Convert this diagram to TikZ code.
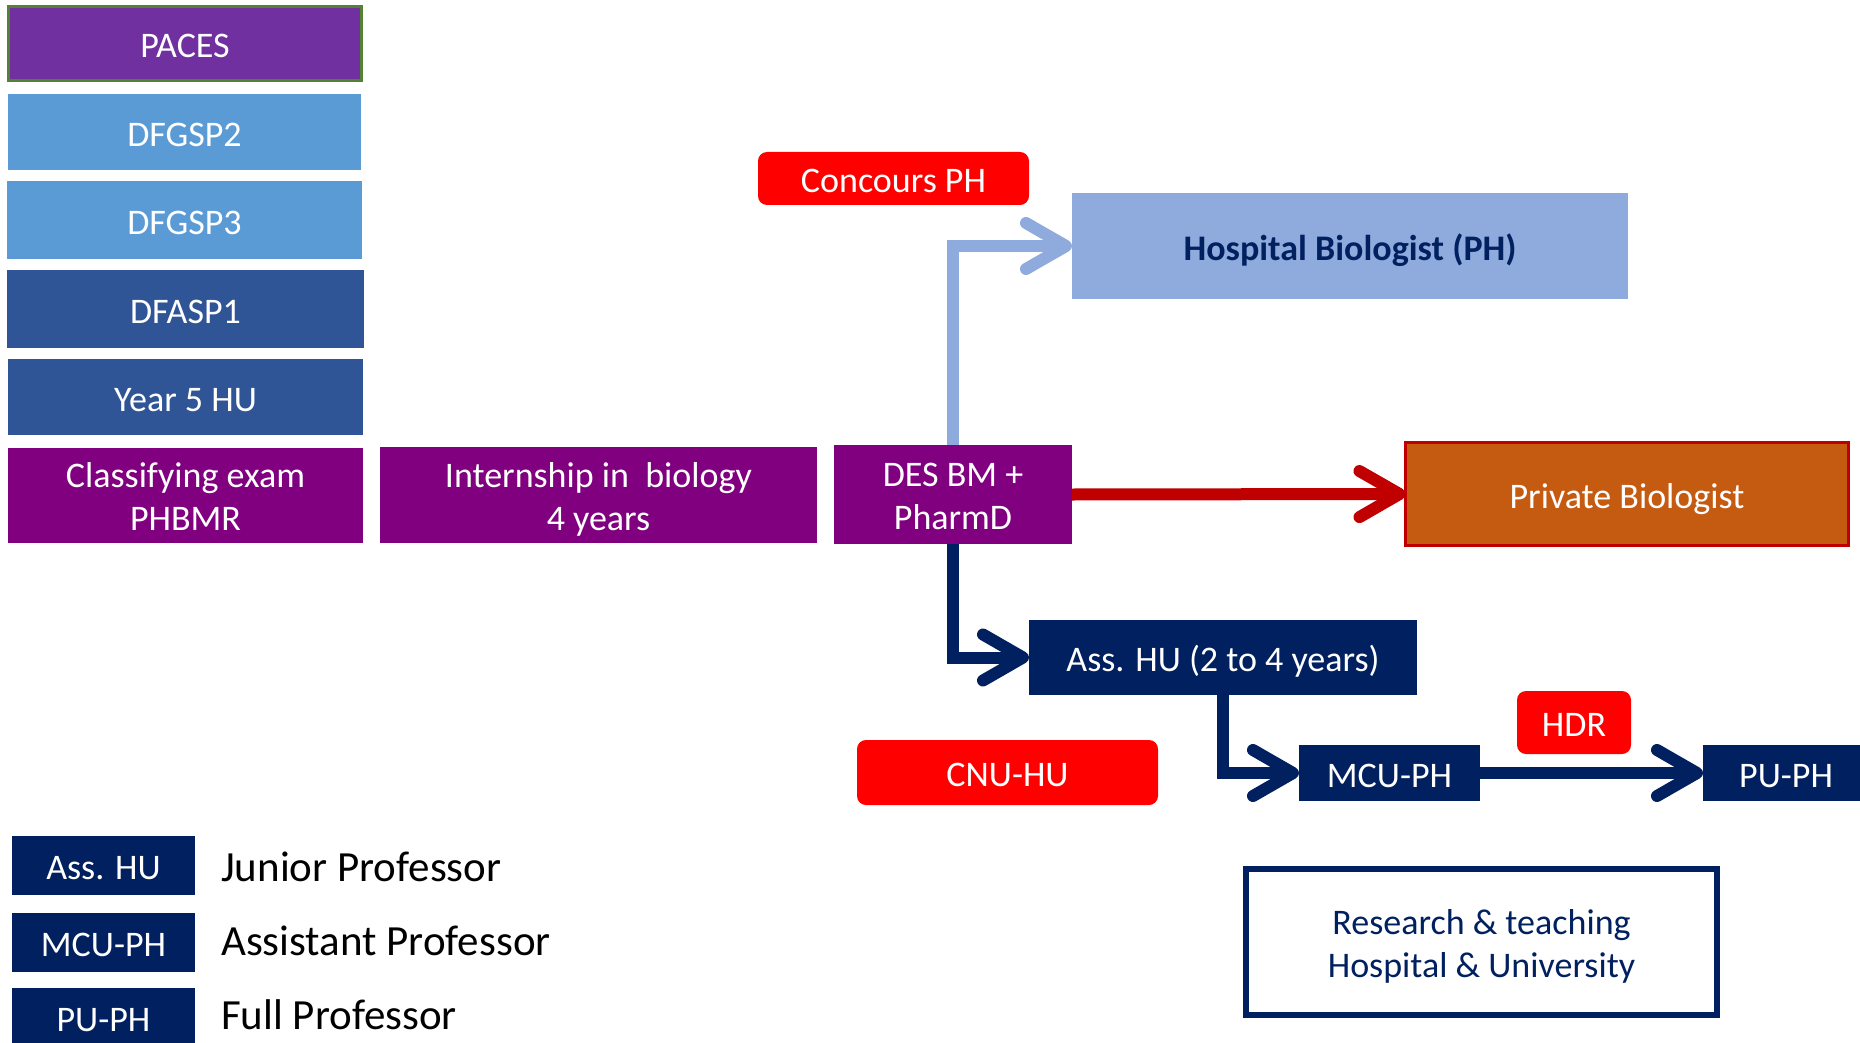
\documentclass[tikz,border=0pt]{standalone}
\usepackage{fontspec}
\setmainfont{Carlito}
\usetikzlibrary{arrows.meta}
\definecolor{cpaces}{HTML}{7030A0}
\definecolor{cgreen}{HTML}{548235}
\definecolor{clight}{HTML}{5B9BD5}
\definecolor{cmid}{HTML}{2F5597}
\definecolor{cpurple}{HTML}{800080}
\definecolor{cred}{HTML}{FF0000}
\definecolor{chosp}{HTML}{8FAADC}
\definecolor{cnavy}{HTML}{002060}
\definecolor{corange}{HTML}{C55A11}
\definecolor{cdarkred}{HTML}{C00000}
\newcommand{\bstrut}{\rule[-9.5pt]{0pt}{47.3pt}}
\newcommand{\twolines}[2]{\raisebox{-5.2pt}[\height][\depth]{\begin{tabular}{@{}c@{}}#1\\#2\end{tabular}}}
\begin{document}
\begin{tikzpicture}[x=1pt,y=-1pt,
  box/.style={rectangle, inner sep=0pt, outer sep=0pt, align=center, text=white,
    font=\fontsize{36}{43}\selectfont, execute at begin node=\bstrut},
  redbox/.style={box, fill=cred, rounded corners=9pt},
  navybox/.style={box, fill=cnavy},
  flow/.style={line width=12pt, line join=miter,
    -{Straight Barb[length=40pt, width=46pt, round]}},
  legtext/.style={anchor=west, inner sep=0pt, text=black, font=\fontsize{43}{50}\selectfont}
]
\clip (0,0) rectangle (1860,1043);
\useasboundingbox (0,0) rectangle (1860,1043);

% left column
\node[box, fill=cpaces, draw=cgreen, line width=3pt, minimum width=353pt, minimum height=74pt] (paces) at (185,43.5) {PACES};
\node[box, fill=clight, minimum width=353pt, minimum height=76pt] (dfgsp2) at (184.5,132) {DFGSP2};
\node[box, fill=clight, minimum width=355pt, minimum height=78pt] (dfgsp3) at (184.5,220) {DFGSP3};
\node[box, fill=cmid, minimum width=357pt, minimum height=78pt] (dfasp1) at (185.5,309) {DFASP1};
\node[box, fill=cmid, minimum width=355pt, minimum height=76pt] (year5) at (185.5,397) {Year 5 HU};
\node[box, fill=cpurple, minimum width=355pt, minimum height=95pt] (classif) at (185.5,495.5) {\twolines{Classifying exam}{PHBMR}};
\node[box, fill=cpurple, minimum width=437pt, minimum height=96pt] (intern) at (598.5,495) {\twolines{Internship in\ \ biology}{4 years}};
\node[box, fill=cpurple, minimum width=238pt, minimum height=99pt] (des) at (953,494.5) {\twolines{DES BM +}{PharmD}};

% top branch
\node[redbox, minimum width=271pt, minimum height=53pt] (concours) at (893.5,178.5) {Concours PH};
\node[box, fill=chosp, text=cnavy, font=\fontsize{36}{43}\selectfont\bfseries, minimum width=556pt, minimum height=106pt] (hosp) at (1350,246) {Hospital Biologist (PH)};

% private
\node[box, fill=corange, draw=cdarkred, line width=3pt, minimum width=443pt, minimum height=103pt] (private) at (1627,494) {Private Biologist};

% academic branch
\node[navybox, minimum width=388pt, minimum height=75pt] (asshu) at (1223,657.5) {Ass. HU (2 to 4 years)};
\node[navybox, minimum width=181pt, minimum height=56pt] (mcu) at (1389.5,773) {MCU-PH};
\node[redbox, minimum width=114pt, minimum height=63pt] (hdr) at (1574,722.5) {HDR};
\node[navybox, minimum width=166pt, minimum height=56pt] (pu) at (1786,773) {PU-PH};
\node[redbox, minimum width=301pt, minimum height=65pt] (cnu) at (1007.5,772.5) {CNU-HU};

% research box
\node[box, fill=white, draw=cnavy, line width=6pt, text=cnavy, minimum width=471pt, minimum height=146pt] (research) at (1481.5,942) {\twolines{Research \& teaching}{Hospital \& University}};

% connectors
\draw[flow, chosp] (des.north) |- (hosp.west);
\draw[flow, cdarkred] (des.east) -- (private.west);
\draw[flow, cnavy] (des.south) |- (asshu.west);
\draw[flow, cnavy] (asshu.south) |- (mcu.west);
\draw[flow, cnavy] (mcu.east) -- (pu.west);

% legend
\node[navybox, minimum width=183pt, minimum height=59pt] (legass) at (103.5,865.5) {Ass. HU};
\node[navybox, minimum width=183pt, minimum height=59pt] (legmcu) at (103.5,942.5) {MCU-PH};
\node[navybox, minimum width=183pt, minimum height=59pt] (legpu) at (103.5,1017.5) {PU-PH};
\node[legtext] (tjun) at (221,866.7) {Junior Professor};
\node[legtext] (tass) at (221,941.3) {Assistant Professor};
\node[legtext] (tfull) at (221,1015.1) {Full Professor};
\end{tikzpicture}
\end{document}
